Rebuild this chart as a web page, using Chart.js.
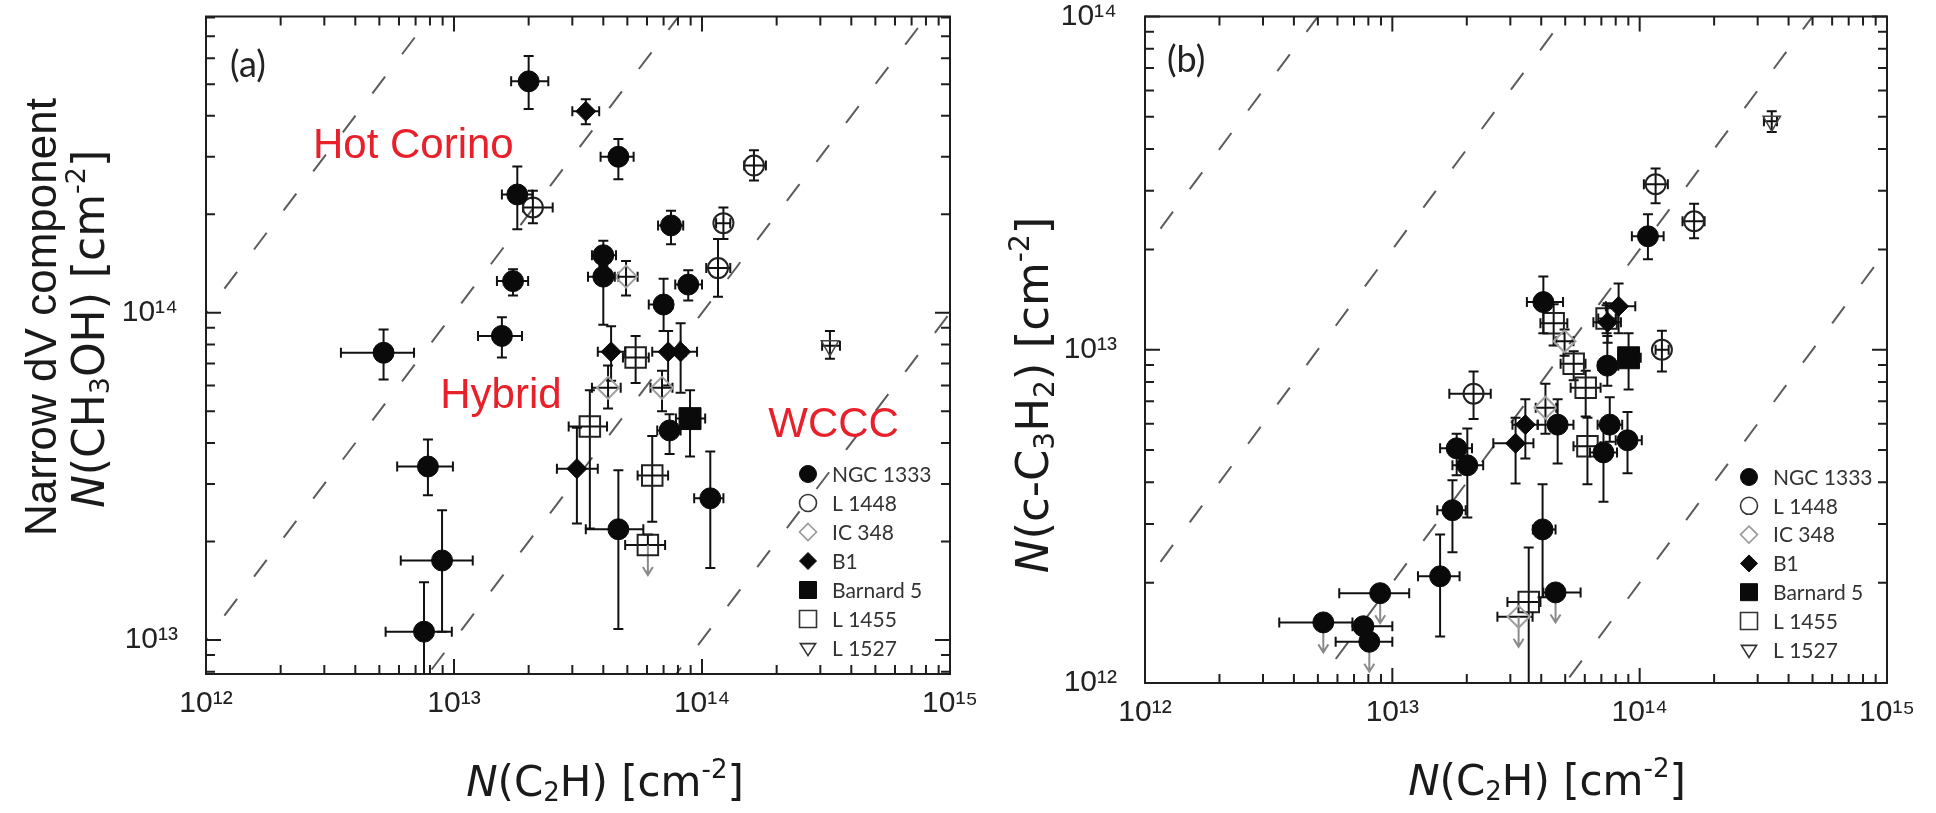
<!DOCTYPE html>
<html><head><meta charset="utf-8">
<script src="https://cdn.jsdelivr.net/npm/chart.js@4.4.1/dist/chart.umd.min.js"></script>
<style>
html,body{margin:0;padding:0;background:#fff;}
#wrap{position:relative;width:1936px;height:813px;overflow:hidden;background:#fff;}
#ca{position:absolute;left:0;top:0;}
#cb{position:absolute;left:1000px;top:0;}
</style></head><body>
<div id="wrap"><canvas id="ca" width="1000" height="813"></canvas><canvas id="cb" width="936" height="813"></canvas></div>
<script>
// ---------------- DATA ----------------
const SERIES = ['NGC 1333','L 1448','IC 348','B1','Barnard 5','L 1455','L 1527'];
const DECADE_LABELS = {12:'10\u00B9\u00B2',13:'10\u00B9\u00B3',14:'10\u00B9\u2074',15:'10\u00B9\u2075'};
// each point: [x, xLow, xHigh, y, yLow, yHigh, upperLimit]
// panel (a): N(C2H) vs narrow N(CH3OH)
const a_ngc1333 = [
 [2.0e13,1.7e13,2.4e13, 5.1e14,4.2e14,6.1e14],
 [1.8e13,1.56e13,2.07e13, 2.3e14,1.8e14,2.8e14],
 [1.73e13,1.49e13,1.99e13, 1.25e14,1.13e14,1.36e14],
 [1.56e13,1.25e13,1.88e13, 8.5e13,7.3e13,9.7e13],
 [5.2e12,3.5e12,6.9e12, 7.55e13,6.25e13,8.9e13],
 [7.85e12,5.9e12,9.9e12, 3.39e13,2.77e13,4.1e13],
 [8.95e12,6.1e12,1.19e13, 1.75e13,1.06e13,2.49e13],
 [7.57e12,5.3e12,9.8e12, 1.06e13,5e12,1.5e13],
 [4.6e13,3.9e13,5.3e13, 3.0e14,2.56e14,3.4e14],
 [7.5e13,6.65e13,8.4e13, 1.85e14,1.62e14,2.05e14],
 [4.0e13,3.6e13,4.5e13, 1.5e14,1.39e14,1.66e14],
 [4.0e13,3.47e13,4.45e13, 1.29e14,9.2e13,1.42e14],
 [8.8e13,7.8e13,1.0e14, 1.22e14,1.09e14,1.35e14],
 [7.0e13,6.1e13,7.6e13, 1.06e14,8.8e13,1.27e14],
 [7.4e13,6.6e13,8.2e13, 4.37e13,3.7e13,4.9e13],
 [4.6e13,3.4e13,5.8e13, 2.18e13,1.08e13,3.3e13],
 [1.08e14,9.3e13,1.22e14, 2.71e13,1.66e13,3.77e13]
];
const a_l1448 = [
 [2.08e13,1.9e13,2.5e13, 2.1e14,1.88e14,2.36e14],
 [1.62e14,1.48e14,1.81e14, 2.82e14,2.54e14,3.14e14],
 [1.22e14,1.14e14,1.3e14, 1.88e14,1.68e14,2.1e14],
 [1.16e14,1.04e14,1.3e14, 1.37e14,1.12e14,1.68e14]
];
const a_ic348 = [
 [4.94e13,4.6e13,5.5e13, 1.29e14,1.13e14,1.44e14],
 [4.18e13,3.6e13,4.7e13, 5.9e13,5.1e13,6.9e13],
 [6.9e13,6.2e13,7.6e13, 5.9e13,5.0e13,6.65e13]
];
const a_b1 = [
 [3.4e13,3.0e13,3.85e13, 4.13e14,3.77e14,4.5e14],
 [4.3e13,3.8e13,4.9e13, 7.6e13,6.2e13,9.1e13],
 [7.3e13,6.3e13,8.6e13, 7.6e13,6.0e13,8.8e13],
 [8.2e13,7.3e13,9.55e13, 7.6e13,5.7e13,9.3e13],
 [3.13e13,2.6e13,3.8e13, 3.34e13,2.27e13,4.45e13]
];
const a_barnard5 = [
 [8.95e13,7.85e13,1.03e14, 4.75e13,3.64e13,5.8e13]
];
const a_l1455 = [
 [5.4e13,4.8e13,6.1e13, 7.3e13,6.1e13,8.5e13],
 [3.53e13,2.9e13,4.14e13, 4.49e13,2.19e13,5.8e13],
 [6.3e13,5.5e13,7.3e13, 3.18e13,2.3e13,4.2e13],
 [6.05e13,4.9e13,7.1e13, 1.95e13,null,2.1e13,1]
];
const a_l1527 = [
 [3.28e14,3.05e14,3.6e14, 7.93e13,7.24e13,8.8e13]
];
// panel (b): N(C2H) vs N(c-C3H2)
const b_ngc1333 = [
 [1.08e14,9.3e13,1.25e14, 2.19e13,1.87e13,2.55e13],
 [4.08e13,3.5e13,4.9e13, 1.39e13,1.12e13,1.66e13],
 [7.4e13,6.8e13,8.2e13, 8.96e12,7.8e12,1.1e13],
 [4.66e13,3.87e13,5.4e13, 5.96e12,4.56e12,7.1e12],
 [7.57e13,6.76e13,8.5e13, 5.96e12,5.3e12,7.2e12],
 [8.93e13,8.0e13,1.02e14, 5.35e12,4.26e12,6.5e12],
 [7.14e13,6.3e13,8.1e13, 4.92e12,3.5e12,5.9e12],
 [1.82e13,1.56e13,2.1e13, 5.06e12,4.2e12,5.6e12],
 [2.01e13,1.75e13,2.33e13, 4.5e12,3.14e12,5.8e12],
 [1.75e13,1.52e13,1.98e13, 3.3e12,2.47e12,4.06e12],
 [4.05e13,3.7e13,4.57e13, 2.89e12,1.81e12,3.95e12],
 [1.56e13,1.27e13,1.87e13, 2.09e12,1.38e12,2.79e12],
 [4.57e13,4.08e13,5.77e13, 1.87e12,null,null,1],
 [8.93e12,6.1e12,1.17e13, 1.86e12,null,null,1],
 [5.26e12,3.49e12,6.9e12, 1.52e12,null,null,1],
 [7.64e12,6.9e12,1.0e13, 1.48e12,null,null],
 [8.07e12,5.9e12,1.0e13, 1.33e12,null,null,1]
];
const b_l1448 = [
 [1.16e14,1.04e14,1.3e14, 3.14e13,2.75e13,3.5e13],
 [1.66e14,1.49e14,1.83e14, 2.43e13,2.16e13,2.74e13],
 [1.23e14,1.16e14,1.31e14, 1.0e13,8.6e12,1.14e13],
 [2.13e13,1.7e13,2.5e13, 7.38e12,6.2e12,8.6e12]
];
const b_ic348 = [
 [4.97e13,4.6e13,5.4e13, 1.06e13,9.6e12,1.15e13],
 [4.16e13,3.8e13,4.6e13, 6.7e12,5.6e12,7.9e12],
 [3.24e13,2.66e13,3.69e13, 1.58e12,null,null,1]
];
const b_b1 = [
 [8.22e13,7.3e13,9.6e13, 1.35e13,1.12e13,1.58e13],
 [7.42e13,6.5e13,8.4e13, 1.21e13,1.05e13,1.38e13],
 [3.45e13,3.06e13,3.87e13, 5.96e12,4.72e12,7.1e12],
 [3.15e13,2.56e13,3.72e13, 5.24e12,3.97e12,6.25e12]
];
const b_barnard5 = [
 [9.02e13,8.2e13,1.01e14, 9.46e12,7.6e12,1.12e13]
];
const b_l1455 = [
 [4.49e13,3.97e13,5.1e13, 1.2e13,1.03e13,1.37e13],
 [5.41e13,4.79e13,6.04e13, 9.08e12,8.1e12,9.9e12],
 [6.05e13,5.26e13,6.95e13, 7.69e12,6.3e12,8.65e12],
 [6.15e13,5.4e13,6.95e13, 5.13e12,3.95e12,6.25e12],
 [3.56e13,2.92e13,3.97e13, 1.75e12,8e11,2.55e12],
 [7.35e13,6.8e13,8.0e13, 1.24e13,1.12e13,1.36e13]
];
const b_l1527 = [
 [3.42e14,3.18e14,3.59e14, 4.85e13,4.5e13,5.2e13]
];
// abundance-ratio reference lines (y = ratio * x)
const a_ratios = [100, 10, 1, 0.1];
const b_ratios = [20, 2, 0.2, 0.02];
// axis ranges
const a_xRange = [1e12, 1e15], a_yRange = [7.87e12, 8.05e14];
const b_xRange = [1e12, 1e15], b_yRange = [1e12, 1e14];
// texts
const a_panelLabel = '(a)', b_panelLabel = '(b)';
const a_annotations = [
 {text:'Hot Corino', x:2.7e12, y:2.97e14},
 {text:'Hybrid', x:8.8e12, y:5.1e13},
 {text:'WCCC', x:1.85e14, y:4.16e13}
];
const xTitle = [['N','i'],['(C',''],['2','sub'],['H) [cm',''],['-2','sup'],[']','']];
const a_yTitle1 = 'Narrow dV component';
const a_yTitle2 = [['N','i'],['(CH',''],['3','sub'],['OH) [cm',''],['-2','sup'],[']','']];
const b_yTitle = [['N','i'],['(c-C',''],['3','sub'],['H',''],['2','sub'],[') [cm',''],['-2','sup'],[']','']];

// ---------------- STYLES ----------------
const STYLES = [
 {style:'circle', r:10.5, fill:'#0a0a0a', stroke:'#0a0a0a', bw:1},
 {style:'circle', r:10, fill:'rgba(0,0,0,0)', stroke:'#222', bw:2},
 {style:'rectRot', r:11, fill:'rgba(0,0,0,0)', stroke:'#a0a0a0', bw:2},
 {style:'rectRot', r:10, fill:'#0a0a0a', stroke:'#0a0a0a', bw:1},
 {style:'rect', r:15.5, fill:'#0a0a0a', stroke:'#0a0a0a', bw:1},
 {style:'rect', r:14.5, fill:'rgba(0,0,0,0)', stroke:'#222', bw:2},
 {style:'triangle', r:10, rot:180, fill:'rgba(0,0,0,0)', stroke:'#444', bw:1.5}
];
const FIG_FONT = "Lato, 'Open Sans', 'Liberation Sans', sans-serif";
const TICK_FONT = "'Liberation Sans', 'DejaVu Sans', sans-serif";
const RED = '#e8202a';

// ---------------- HELPERS ----------------
function drawMarker(ctx, st, x, y, r){
  ctx.save();
  ctx.beginPath();
  if (st.style === 'circle') ctx.arc(x, y, r, 0, Math.PI*2);
  else if (st.style === 'rectRot'){ ctx.moveTo(x, y-r); ctx.lineTo(x+r, y); ctx.lineTo(x, y+r); ctx.lineTo(x-r, y); ctx.closePath(); }
  else if (st.style === 'rect'){ const s = r*Math.SQRT1_2; ctx.rect(x-s, y-s, 2*s, 2*s); }
  else if (st.style === 'triangle'){ const h = r; ctx.moveTo(x-h*0.95, y-h*0.55); ctx.lineTo(x+h*0.95, y-h*0.55); ctx.lineTo(x, y+h*0.95); ctx.closePath(); }
  ctx.fillStyle = st.fill; ctx.fill();
  ctx.lineWidth = st.bw; ctx.strokeStyle = st.stroke; ctx.stroke();
  ctx.restore();
}
function segFont(seg, size, family){
  const small = seg[1] === 'sub' || seg[1] === 'sup';
  return (seg[1] === 'i' ? 'italic ' : '') + (small ? Math.round(size*0.62) : Math.round(size)) + 'px ' + family;
}
function drawRich(ctx, segs, family, cx, cy, rot, targetLen){
  let size = 100;
  const measure = (sz) => segs.reduce((w, s) => { ctx.font = segFont(s, sz, family); return w + ctx.measureText(s[0]).width; }, 0);
  size = 100 * targetLen / measure(100);
  const total = measure(size);
  ctx.save();
  ctx.translate(cx, cy); ctx.rotate(rot);
  ctx.fillStyle = '#1a1a1a'; ctx.textBaseline = 'alphabetic'; ctx.textAlign = 'left';
  let x = -total/2; const base = size*0.36;
  segs.forEach(s => {
    ctx.font = segFont(s, size, family);
    let dy = 0;
    if (s[1] === 'sub') dy = size*0.12;
    if (s[1] === 'sup') dy = -size*0.42;
    ctx.fillText(s[0], x, base + dy);
    x += ctx.measureText(s[0]).width;
  });
  ctx.restore();
}
function tickLabel(v){
  const e = Math.log10(v), r = Math.round(e);
  return (Math.abs(e - r) < 1e-6 && DECADE_LABELS[r]) ? DECADE_LABELS[r] : '';
}

// ---------------- PLUGINS ----------------
const errorBars = {
  id: 'errorBars',
  beforeDatasetDraw(chart, args){
    const ds = chart.data.datasets[args.index];
    if (!ds.err) return;
    const {ctx, chartArea: ca} = chart; const xs = chart.scales.x, ys = chart.scales.y;
    ctx.save();
    ctx.beginPath(); ctx.rect(ca.left, ca.top, ca.right-ca.left, ca.bottom-ca.top); ctx.clip();
    ds.err.forEach(p => {
      const px = xs.getPixelForValue(p[0]), py = ys.getPixelForValue(p[3]);
      ctx.strokeStyle = '#111'; ctx.lineWidth = 2; ctx.beginPath();
      if (p[1] != null && p[2] != null){
        const a = xs.getPixelForValue(p[1]), b = xs.getPixelForValue(p[2]);
        ctx.moveTo(a, py); ctx.lineTo(b, py);
        ctx.moveTo(a, py-5); ctx.lineTo(a, py+5); ctx.moveTo(b, py-5); ctx.lineTo(b, py+5);
      }
      if (p[4] != null){ const c = ys.getPixelForValue(p[4]); ctx.moveTo(px, py); ctx.lineTo(px, c); ctx.moveTo(px-5, c); ctx.lineTo(px+5, c); }
      if (p[5] != null){ const c = ys.getPixelForValue(p[5]); ctx.moveTo(px, py); ctx.lineTo(px, c); ctx.moveTo(px-5, c); ctx.lineTo(px+5, c); }
      ctx.stroke();
      if (p[6]){
        ctx.strokeStyle = '#8a8a8a'; ctx.lineWidth = 2; ctx.beginPath();
        const end = py + 30;
        ctx.moveTo(px, py); ctx.lineTo(px, end);
        ctx.moveTo(px-5, end-8); ctx.lineTo(px, end); ctx.lineTo(px+5, end-8);
        ctx.stroke();
      }
    });
    ctx.restore();
  }
};
const frameTicks = {
  id: 'frameTicks',
  afterDatasetsDraw(chart){
    const {ctx, chartArea: ca} = chart; const xs = chart.scales.x, ys = chart.scales.y;
    ctx.save();
    ctx.strokeStyle = '#1e1e1e'; ctx.lineWidth = 2;
    ctx.strokeRect(ca.left, ca.top, ca.right-ca.left, ca.bottom-ca.top);
    ctx.beginPath();
    const each = (scale, fn) => {
      const lo = Math.floor(Math.log10(scale.min)), hi = Math.ceil(Math.log10(scale.max));
      for (let d = lo; d <= hi; d++) for (let k = 1; k <= 9; k++){
        const v = k*Math.pow(10, d);
        if (v < scale.min*0.999 || v > scale.max*1.001) continue;
        fn(scale.getPixelForValue(v), k === 1);
      }
    };
    each(xs, (p, major) => { const L = major ? 15 : 9;
      ctx.moveTo(p, ca.bottom); ctx.lineTo(p, ca.bottom - L);
      ctx.moveTo(p, ca.top); ctx.lineTo(p, ca.top + L); });
    each(ys, (p, major) => { const L = major ? 15 : 9;
      ctx.moveTo(ca.left, p); ctx.lineTo(ca.left + L, p);
      ctx.moveTo(ca.right, p); ctx.lineTo(ca.right - L, p); });
    ctx.stroke();
    ctx.restore();
  }
};
const decorations = {
  id: 'decorations',
  afterDraw(chart, args, opts){
    const {ctx, chartArea: ca} = chart; const xs = chart.scales.x, ys = chart.scales.y;
    // panel label
    ctx.save();
    ctx.font = '36px ' + FIG_FONT; ctx.fillStyle = '#222'; ctx.textBaseline = 'middle'; ctx.textAlign = 'left';
    ctx.fillText(opts.panelLabel, ca.left + opts.labelDx, ca.top + opts.labelDy);
    // annotations
    ctx.font = '42px "Liberation Sans", Arial, sans-serif'; ctx.fillStyle = RED; ctx.textBaseline = 'alphabetic';
    (opts.annotations || []).forEach(a => ctx.fillText(a.text, xs.getPixelForValue(a.x), ys.getPixelForValue(a.y)));
    // legend
    const lx = ca.right + opts.legDx, ly = ca.bottom + opts.legDy;
    ctx.font = '21px ' + FIG_FONT; ctx.fillStyle = '#333'; ctx.textBaseline = 'middle';
    SERIES.forEach((name, i) => {
      const st = STYLES[i]; const yy = ly + i*opts.legGap;
      const r = st.style === 'rect' ? 12 : (st.style === 'triangle' ? 8 : 8.5);
      drawMarker(ctx, Object.assign({}, st, st.fill.startsWith('rgba') ? {stroke: i === 2 ? '#999' : '#333', bw: 1.6} : {}), lx, yy, r);
      ctx.fillStyle = '#333';
      ctx.fillText(name, lx + 24, yy + 1);
    });
    // axis titles
    const ttl = "'DejaVu Sans', 'Liberation Sans', sans-serif";
    drawRich(ctx, xTitle, ttl, opts.xTitle.cx, opts.xTitle.cy, 0, opts.xTitle.len);
    opts.yTitles.forEach(t => {
      if (typeof t.segs === 'string') {
        ctx.save(); ctx.translate(t.cx, t.cy); ctx.rotate(-Math.PI/2);
        ctx.font = '100px "Liberation Sans", Arial, sans-serif';
        const w = ctx.measureText(t.segs).width; const sz = 100*t.len/w;
        ctx.font = sz + 'px "Liberation Sans", Arial, sans-serif'; ctx.fillStyle = '#1a1a1a';
        ctx.textAlign = 'center'; ctx.textBaseline = 'alphabetic';
        ctx.fillText(t.segs, 0, sz*0.36);
        ctx.restore();
      } else drawRich(ctx, t.segs, ttl, t.cx, t.cy, -Math.PI/2, t.len);
    });
    ctx.restore();
  }
};

// ---------------- CHART BUILDERS ----------------
function buildDatasets(seriesArrays, ratios, xRange){
  const ds = [];
  ratios.forEach(r => ds.push({
    data: [{x: xRange[0]/10, y: r*xRange[0]/10}, {x: xRange[1]*10, y: r*xRange[1]*10}],
    showLine: true, borderColor: '#5c5c5c', borderWidth: 2, borderDash: [21, 28],
    pointRadius: 0, pointHoverRadius: 0, fill: false, order: 10
  }));
  seriesArrays.forEach((arr, i) => {
    const st = STYLES[i];
    ds.push({
      label: SERIES[i], data: arr.map(p => ({x: p[0], y: p[3]})), err: arr,
      pointStyle: st.style, rotation: st.rot || 0, pointRadius: st.r, pointHoverRadius: st.r,
      backgroundColor: st.fill, borderColor: st.stroke, borderWidth: st.bw, order: 1
    });
  });
  return ds;
}
function axis(range, isX, size, pad){
  return {
    type: 'logarithmic', min: range[0], max: range[1], position: isX ? 'bottom' : 'left',
    grid: {display: false, drawTicks: false}, border: {display: false},
    ticks: {callback: tickLabel, autoSkip: false, maxRotation: 0, minRotation: 0, padding: pad,
            font: {family: TICK_FONT, size: 30}, color: '#222'},
    afterFit(s){ if (isX) s.height = size; else s.width = size;
      s.paddingLeft = 0; s.paddingRight = 0; s.paddingTop = 0; s.paddingBottom = 0; }
  };
}
function makeChart(id, cfg){
  return new Chart(document.getElementById(id), {
    type: 'scatter',
    data: {datasets: buildDatasets(cfg.series, cfg.ratios, cfg.xRange)},
    options: {
      responsive: false, animation: false, events: [],
      layout: {padding: cfg.padding},
      scales: {x: axis(cfg.xRange, true, cfg.xAxisH, 12), y: axis(cfg.yRange, false, cfg.yAxisW, 28)},
      plugins: {legend: {display: false}, tooltip: {enabled: false}, decorations: cfg.deco}
    },
    plugins: [errorBars, frameTicks, decorations]
  });
}

makeChart('ca', {
  series: [a_ngc1333, a_l1448, a_ic348, a_b1, a_barnard5, a_l1455, a_l1527],
  ratios: a_ratios, xRange: a_xRange, yRange: a_yRange,
  padding: {top: 15, right: 50, left: 0, bottom: 0}, xAxisH: 139, yAxisW: 206,
  deco: {panelLabel: a_panelLabel, labelDx: 24, labelDy: 49, annotations: a_annotations,
         legDx: -142, legDy: -200, legGap: 29,
         xTitle: {cx: 605, cy: 781, len: 278},
         yTitles: [{segs: a_yTitle1, cx: 40, cy: 317, len: 438}, {segs: a_yTitle2, cx: 88, cy: 329, len: 358}]}
});
makeChart('cb', {
  series: [b_ngc1333, b_l1448, b_ic348, b_b1, b_barnard5, b_l1455, b_l1527],
  ratios: b_ratios, xRange: b_xRange, yRange: b_yRange,
  padding: {top: 15, right: 49, left: 0, bottom: 0}, xAxisH: 130, yAxisW: 145,
  deco: {panelLabel: b_panelLabel, labelDx: 22, labelDy: 44, annotations: [],
         legDx: -138, legDy: -206, legGap: 28.8,
         xTitle: {cx: 547, cy: 780, len: 279},
         yTitles: [{segs: b_yTitle, cx: 32, cy: 395, len: 358}]}
});
</script>
</body></html>
